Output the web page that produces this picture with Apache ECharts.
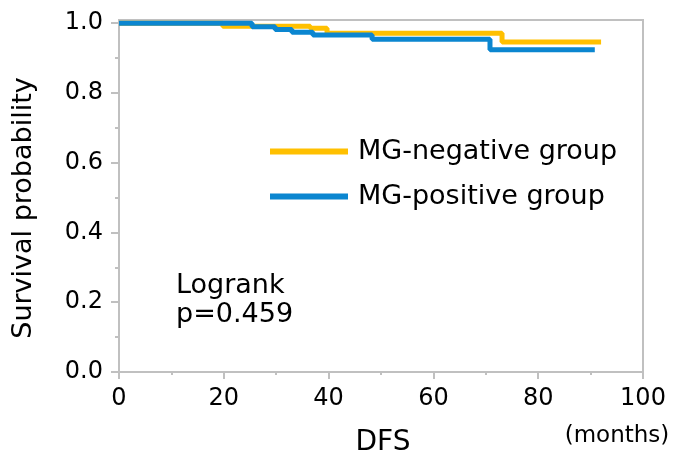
<!DOCTYPE html>
<html>
<head>
<meta charset="utf-8">
<script src="https://cdn.jsdelivr.net/npm/echarts@6/dist/echarts.min.js"></script>
<style>
  html, body { margin: 0; padding: 0; background: #fff; }
  #km { width: 675px; height: 454px; }
</style>
</head>
<body>
<div id="km"></div>
<script>
// Kaplan-Meier steps (months, survival)
var negTimes = [0, 19.8, 36.5, 39.7, 73.1, 92.0];
var negSurv = [1.0, 0.991, 0.985, 0.971, 0.946, 0.946];
var posTimes = [0, 25.4, 29.8, 33.0, 37.0, 48.3, 70.8, 90.8];
var posSurv = [1.0, 0.990, 0.982, 0.974, 0.966, 0.954, 0.924, 0.924];
var yMajor = [0, 0.2, 0.4, 0.6, 0.8, 1.0];
var yMinor = [0.1, 0.3, 0.5, 0.7, 0.9];
var groups = ['MG-negative group', 'MG-positive group'];

function pairs(t, s) {
  var out = [];
  for (var i = 0; i < t.length; i++) out.push([t[i], s[i]]);
  return out;
}

var font = 'DejaVu Sans';
var axisGray = '#c0c0c0';
var chart = echarts.init(document.getElementById('km'));

chart.setOption({
  animation: false,
  grid: {
    left: 119,
    right: 32,
    top: 20,
    bottom: 82,
    show: true,
    borderColor: axisGray,
    borderWidth: 2,
    outerBoundsMode: 'none'
  },
  legend: {
    data: groups,
    orient: 'vertical',
    left: 265,
    top: 133,
    icon: 'rect',
    itemWidth: 78,
    itemHeight: 6,
    itemGap: 18,
    textStyle: {
      fontFamily: font,
      fontSize: 27,
      color: '#000',
      padding: [0, 0, 0, 5]
    }
  },
  xAxis: {
    type: 'value',
    min: 0,
    max: 100,
    interval: 20,
    splitLine: { show: false },
    axisLine: { lineStyle: { color: axisGray, width: 2 } },
    axisTick: { length: 7, lineStyle: { color: axisGray, width: 2 } },
    minorTick: { show: true, splitNumber: 2, length: 3, lineStyle: { color: axisGray, width: 2 } },
    axisLabel: { margin: 15, fontFamily: font, fontSize: 24, color: '#000' }
  },
  yAxis: [
    {
      type: 'value',
      min: 0,
      max: 1.009,
      splitLine: { show: false },
      axisLine: { show: true, lineStyle: { color: axisGray, width: 2 } },
      axisTick: { show: true, length: 8, customValues: yMajor, lineStyle: { color: axisGray, width: 2 } },
      axisLabel: {
        customValues: yMajor,
        margin: 16,
        fontFamily: font,
        fontSize: 24,
        color: '#000',
        formatter: function (v) { return v.toFixed(1); }
      }
    },
    {
      type: 'value',
      min: 0,
      max: 1.009,
      position: 'left',
      splitLine: { show: false },
      axisLine: { show: false },
      axisLabel: { show: false },
      axisTick: { show: true, length: 4, customValues: yMinor, lineStyle: { color: axisGray, width: 2 } }
    }
  ],
  series: [
    {
      name: groups[0],
      type: 'line',
      step: 'end',
      showSymbol: false,
      data: pairs(negTimes, negSurv),
      itemStyle: { color: '#FFC000' },
      lineStyle: { color: '#FFC000', width: 5 }
    },
    {
      name: groups[1],
      type: 'line',
      step: 'end',
      showSymbol: false,
      data: pairs(posTimes, posSurv),
      itemStyle: { color: '#0B86D0' },
      lineStyle: { color: '#0B86D0', width: 5 }
    }
  ],
  graphic: [
    {
      type: 'text', x: 24, y: 208, rotation: Math.PI / 2,
      style: { text: 'Survival probability', fontFamily: font, fontSize: 27, fill: '#000', textAlign: 'center', textVerticalAlign: 'middle' }
    },
    {
      type: 'text', x: 383, y: 443,
      style: { text: 'DFS', fontFamily: font, fontSize: 28, fill: '#000', textAlign: 'center', textVerticalAlign: 'middle' }
    },
    {
      type: 'text', x: 617, y: 436,
      style: { text: '(months)', fontFamily: font, fontSize: 23, fill: '#000', textAlign: 'center', textVerticalAlign: 'middle' }
    },
    {
      type: 'text', x: 176, y: 286,
      style: { text: 'Logrank', fontFamily: font, fontSize: 27, fill: '#000', textAlign: 'left', textVerticalAlign: 'middle' }
    },
    {
      type: 'text', x: 176, y: 315,
      style: { text: 'p=0.459', fontFamily: font, fontSize: 27, fill: '#000', textAlign: 'left', textVerticalAlign: 'middle' }
    }
  ]
});
</script>
</body>
</html>
